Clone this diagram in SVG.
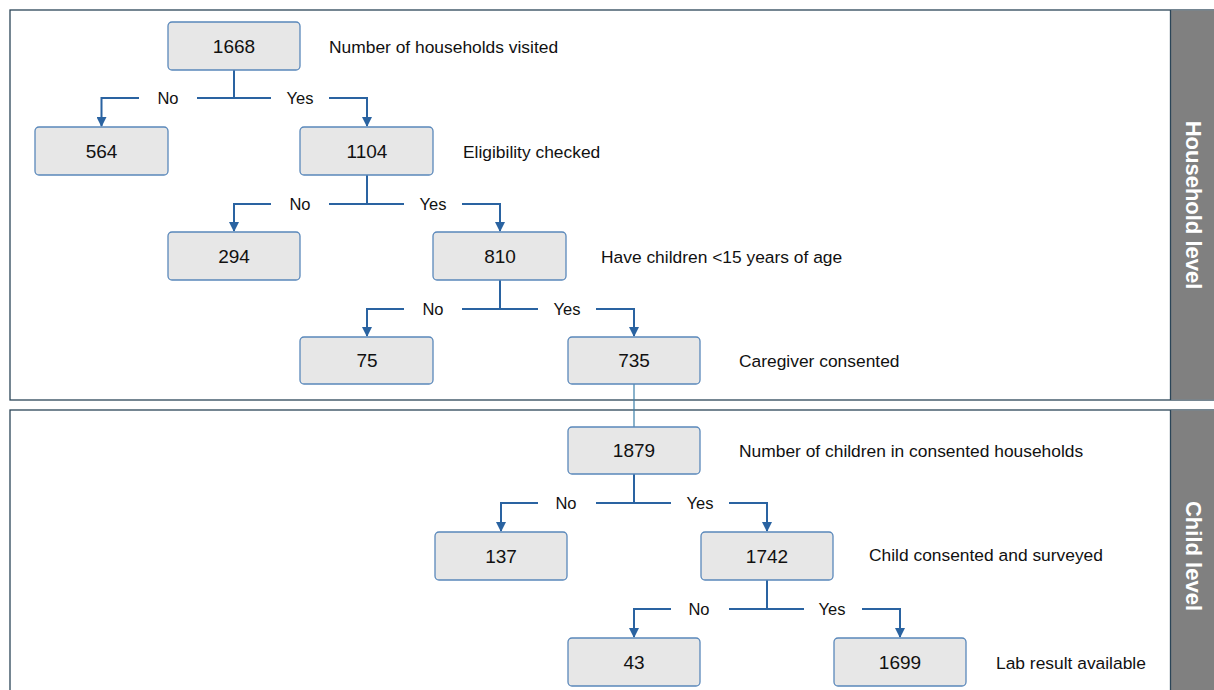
<svg xmlns="http://www.w3.org/2000/svg" width="1214" height="690" viewBox="0 0 1214 690">
<defs>
<style>
.frame{fill:none;stroke:#2b4558;stroke-width:1.3}
.band{fill:#808080}
.band-t{font-family:"Liberation Sans",Arial,sans-serif;font-size:22px;font-weight:bold;fill:#ffffff;text-anchor:middle}
.node rect{fill:#e7e7e7;stroke:#5a88bb;stroke-width:1.3}
.node text{font-family:"Liberation Sans",Arial,sans-serif;font-size:19px;fill:#111;text-anchor:middle}
.note{font-family:"Liberation Sans",Arial,sans-serif;font-size:17.4px;fill:#111}
.lbl{font-family:"Liberation Sans",Arial,sans-serif;font-size:16.5px;fill:#111;text-anchor:middle}
.ln{fill:none;stroke:#2a63a1;stroke-width:2}
.arr{fill:none;stroke:#2a63a1;stroke-width:2;marker-end:url(#ah)}
.thin{fill:none;stroke:#3b7fa8;stroke-width:1.2}
</style>
<marker id="ah" viewBox="0 0 10 10" refX="9" refY="5" markerWidth="5" markerHeight="5" orient="auto" markerUnits="strokeWidth">
<path d="M0,0 L10,5 L0,10 z" fill="#2a63a1"/>
</marker>
</defs>
<rect width="1214" height="690" fill="#ffffff"/>
<g id="household-frame">
<rect class="frame" x="10" y="10" width="1212" height="390"/>
<rect class="band" x="1170.5" y="10.5" width="44" height="389"/>
<line x1="1170.5" y1="10" x2="1170.5" y2="400" stroke="#2b4558" stroke-width="1.3"/>
<text class="band-t" transform="translate(1186,205) rotate(90)">Household level</text>
</g>
<g id="child-frame">
<rect class="frame" x="10" y="410" width="1212" height="290"/>
<rect class="band" x="1170.5" y="410.5" width="44" height="280"/>
<line x1="1170.5" y1="410" x2="1170.5" y2="690" stroke="#2b4558" stroke-width="1.3"/>
<text class="band-t" transform="translate(1186,556) rotate(90)">Child level</text>
</g>
<g id="connectors">
<path class="ln" d="M234,70 V98"/>
<path class="arr" d="M139,98 H101.5 V126"/>
<path class="ln" d="M197,98 H271"/>
<path class="arr" d="M329,98 H367 V126"/>
<path class="ln" d="M367,175 V204"/>
<path class="arr" d="M271,204 H234 V231"/>
<path class="ln" d="M329,204 H404"/>
<path class="arr" d="M462,204 H500 V231"/>
<path class="ln" d="M500,280 V309"/>
<path class="arr" d="M404,309 H367 V336"/>
<path class="ln" d="M462,309 H538"/>
<path class="arr" d="M596,309 H634 V336"/>
<path class="thin" d="M634,384 V427"/>
<path class="ln" d="M634,474 V503"/>
<path class="arr" d="M538,503 H501 V531"/>
<path class="ln" d="M596,503 H671"/>
<path class="arr" d="M729,503 H767 V531"/>
<path class="ln" d="M767,580 V609"/>
<path class="arr" d="M671,609 H634 V637"/>
<path class="ln" d="M729,609 H804"/>
<path class="arr" d="M862,609 H900 V637"/>
<text class="lbl" x="168" y="104">No</text>
<text class="lbl" x="300" y="104">Yes</text>
<text class="lbl" x="300" y="210">No</text>
<text class="lbl" x="433" y="210">Yes</text>
<text class="lbl" x="433" y="315">No</text>
<text class="lbl" x="567" y="315">Yes</text>
<text class="lbl" x="566" y="509">No</text>
<text class="lbl" x="700" y="509">Yes</text>
<text class="lbl" x="699" y="615">No</text>
<text class="lbl" x="832" y="615">Yes</text>
</g>
<g id="n1668" class="node"><rect x="168" y="22" width="132" height="48" rx="4"/><text x="234" y="52.5">1668</text></g>
<g id="n564" class="node"><rect x="35" y="127" width="133" height="48" rx="4"/><text x="101.5" y="157.5">564</text></g>
<g id="n1104" class="node"><rect x="300" y="127" width="133" height="48" rx="4"/><text x="367" y="157.5">1104</text></g>
<g id="n294" class="node"><rect x="168" y="232" width="132" height="48" rx="4"/><text x="234" y="262.5">294</text></g>
<g id="n810" class="node"><rect x="433" y="232" width="133" height="48" rx="4"/><text x="500" y="262.5">810</text></g>
<g id="n75" class="node"><rect x="300" y="337" width="133" height="47" rx="4"/><text x="367" y="367">75</text></g>
<g id="n735" class="node"><rect x="568" y="337" width="132" height="47" rx="4"/><text x="634" y="367">735</text></g>
<g id="n1879" class="node"><rect x="568" y="427" width="132" height="47" rx="4"/><text x="634" y="457">1879</text></g>
<g id="n137" class="node"><rect x="435" y="532" width="132" height="48" rx="4"/><text x="501" y="562.5">137</text></g>
<g id="n1742" class="node"><rect x="701" y="532" width="132" height="48" rx="4"/><text x="767" y="562.5">1742</text></g>
<g id="n43" class="node"><rect x="568" y="638" width="132" height="48" rx="4"/><text x="634" y="668.5">43</text></g>
<g id="n1699" class="node"><rect x="834" y="638" width="132" height="48" rx="4"/><text x="900" y="668.5">1699</text></g>
<g id="notes">
<text class="note" x="329" y="53">Number of households visited</text>
<text class="note" x="463" y="158">Eligibility checked</text>
<text class="note" x="601" y="263">Have children &lt;15 years of age</text>
<text class="note" x="739" y="367">Caregiver consented</text>
<text class="note" x="739" y="457">Number of children in consented households</text>
<text class="note" x="869" y="561">Child consented and surveyed</text>
<text class="note" x="996" y="669">Lab result available</text>
</g>
</svg>
